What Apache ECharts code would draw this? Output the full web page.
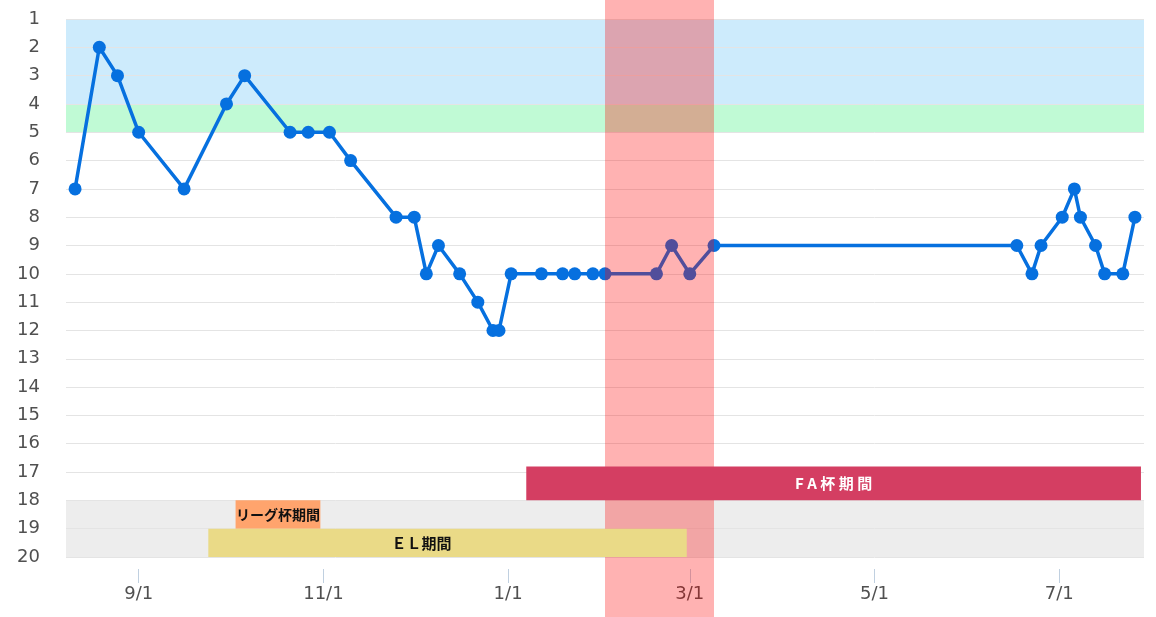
<!DOCTYPE html>
<html>
<head>
<meta charset="utf-8">
<script src="https://cdn.jsdelivr.net/npm/echarts@6/dist/echarts.min.js"></script>
<style>
html,body{margin:0;padding:0;background:#fff;}
#chart{width:1156px;height:617px;}
</style>
</head>
<body>
<div id="chart"></div>
<script>
// ---- data ----
const matchDates = [
  '2019-08-11','2019-08-19','2019-08-25','2019-09-01','2019-09-16','2019-09-30','2019-10-06',
  '2019-10-21','2019-10-27','2019-11-03','2019-11-10','2019-11-25','2019-12-01','2019-12-05',
  '2019-12-09','2019-12-16','2019-12-22','2019-12-27','2019-12-29','2020-01-02','2020-01-12',
  '2020-01-19','2020-01-23','2020-01-29','2020-02-02','2020-02-19','2020-02-24','2020-03-01',
  '2020-03-09','2020-06-17','2020-06-22','2020-06-25','2020-07-02','2020-07-06','2020-07-08',
  '2020-07-13','2020-07-16','2020-07-22','2020-07-26'
];
const ranks = [
  7,2,3,5,7,4,3,
  5,5,5,6,8,8,10,
  9,10,11,12,12,10,10,
  10,10,10,10,10,9,10,
  9,9,10,9,8,7,8,
  9,10,10,8
];
const xRange = ['2019-08-08','2020-07-29'];
const xTickDates = ['2019-09-01','2019-11-01','2020-01-01','2020-03-01','2020-05-01','2020-07-01'];
const rankRange = [1, 20];
const zoneRanks = [[1,4],[4,5],[18,20]];
const cupNames = ['リーグ杯期間','ＥＬ期間','F A 杯 期 間'];
const cupPeriods = [['2019-10-03','2019-10-31'],['2019-09-24','2020-02-29'],['2020-01-07','2020-07-28']];
const cupRanks = [[18,19],[19,20.05],[16.8,18]];
const highlightPeriod = ['2020-02-02','2020-03-09'];

// ---- helpers ----
function ts(s){const p=s.split('-').map(Number);return new Date(p[0],p[1]-1,p[2]).getTime();}

const zoneColors = ['#CDEBFC','#C0FAD5','#EDEDED'];
const cupColors = ['#FFA46D','#EADA87','#D43E62'];
const cupLabelColors = ['#111','#111','#fff'];
const cupLabelSizes = [14,15,15];
const cupLabelOffsets = [[0,0],[-26,0],[0,0]];

const lineData = matchDates.map((d,i)=>[ts(d), ranks[i]]);
const tickVals = xTickDates.map(ts);

const chart = echarts.init(document.getElementById('chart'), null, {renderer:'canvas'});
const font = 'DejaVu Sans, sans-serif';

chart.setOption({
  animation:false,
  grid:{left:66, right:12, top:19, bottom:60},
  xAxis:{
    type:'value', min:ts(xRange[0]), max:ts(xRange[1]), offset:12, z:2,
    axisLine:{show:false},
    axisTick:{show:true, customValues:tickVals, length:14, lineStyle:{color:'#C0D0E0', width:1}},
    axisLabel:{customValues:tickVals, fontSize:18, color:'#505050', fontFamily:font, margin:16,
      formatter:function(v){const dt=new Date(v);return (dt.getMonth()+1)+'/'+dt.getDate();}},
    splitLine:{show:false}
  },
  yAxis:{
    type:'value', inverse:true, min:rankRange[0], max:rankRange[1], interval:1, z:2,
    axisLine:{show:false}, axisTick:{show:false},
    axisLabel:{fontSize:18, color:'#505050', fontFamily:font, margin:26},
    splitLine:{lineStyle:{color:'#E4E4E4', width:1}}
  },
  series:[
    {
      type:'line', z:1, data:lineData, symbol:'none', silent:true,
      lineStyle:{opacity:0},
      markArea:{silent:true, z:1, data: zoneRanks.map((r,i)=>[
        {yAxis:r[0], itemStyle:{color:zoneColors[i]}}, {yAxis:r[1]}
      ])}
    },
    {
      type:'line', z:3, data:lineData, symbol:'circle', symbolSize:13,
      lineStyle:{color:'#0670DF', width:3.5},
      itemStyle:{color:'#0670DF'}
    },
    {
      type:'line', z:20, data:lineData, symbol:'none', silent:true,
      lineStyle:{opacity:0},
      markArea:{silent:true, z:20, data: cupPeriods.map((p,i)=>[
        {xAxis:ts(p[0]), yAxis:cupRanks[i][0], itemStyle:{color:cupColors[i]},
         label:{show:true, position:'inside', formatter:cupNames[i], color:cupLabelColors[i],
                fontSize:cupLabelSizes[i], fontWeight:'bold', fontFamily:'Noto Sans CJK JP, sans-serif',
                offset:cupLabelOffsets[i]}},
        {xAxis:ts(p[1]), yAxis:cupRanks[i][1]}
      ])}
    }
  ]
});

const x0 = chart.convertToPixel({gridIndex:0}, [ts(highlightPeriod[0]), 1])[0];
const x1 = chart.convertToPixel({gridIndex:0}, [ts(highlightPeriod[1]), 1])[0];
chart.setOption({
  graphic:[{type:'rect', z:10, silent:true,
    shape:{x:x0, y:0, width:x1-x0, height:chart.getHeight()},
    style:{fill:'rgba(255,0,0,0.3)'}}]
});
</script>
</body>
</html>
